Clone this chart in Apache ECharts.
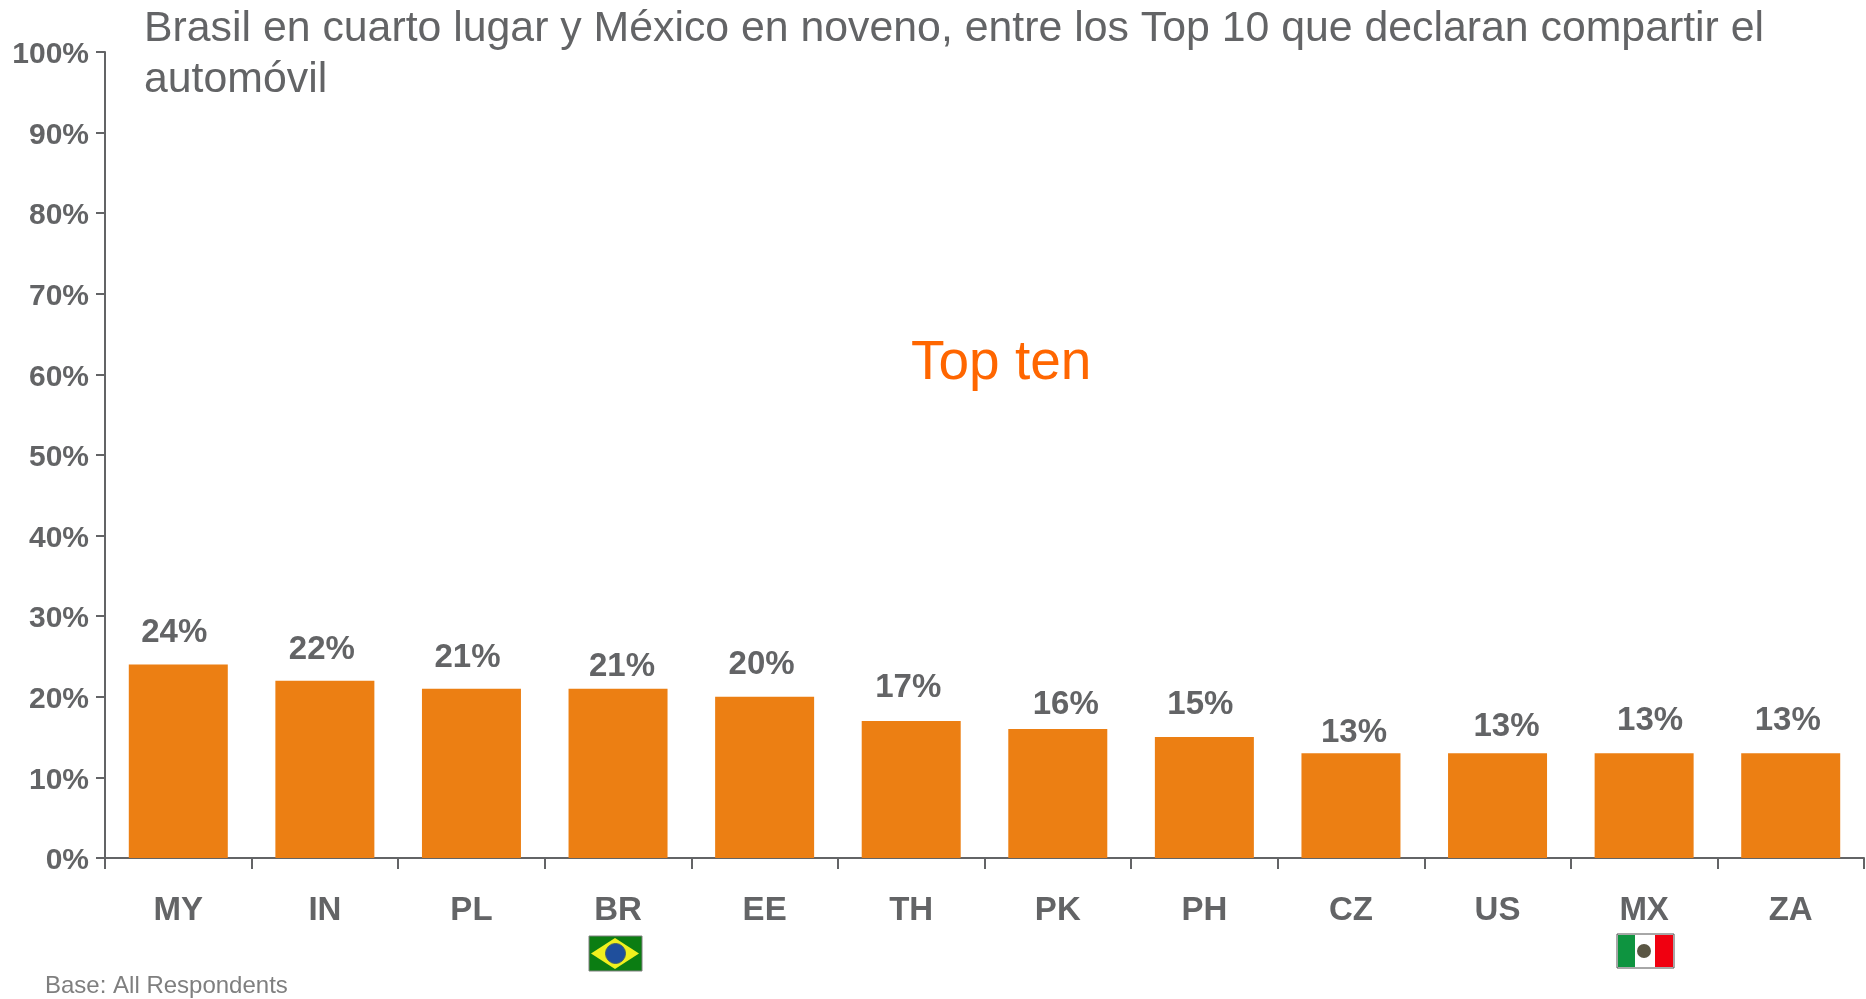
<!DOCTYPE html>
<html>
<head>
<meta charset="utf-8">
<style>
  html, body { margin: 0; padding: 0; background: #fff; }
  #chart { width: 1866px; height: 999px; }
</style>
<script src="https://cdn.jsdelivr.net/npm/echarts@6/dist/echarts.min.js"></script>
</head>
<body>
<div id="chart"></div>
<script>
const categories = ['MY', 'IN', 'PL', 'BR', 'EE', 'TH', 'PK', 'PH', 'CZ', 'US', 'MX', 'ZA']
const shareValues = [24, 22, 21, 21, 20, 17, 16, 15, 13, 13, 13, 13]
const titleText = 'Brasil en cuarto lugar y México en noveno, entre los Top 10 que declaran compartir el\nautomóvil'

const GREY = '#636466'
const FONT = '"Liberation Sans", Arial, sans-serif'

// hand placed data labels in the original, they don't sit evenly over the bars
const labelNudge = [[-4, -15], [-3, -14], [-4, -14], [4, -5], [-3, -15], [-3, -17], [8, -8], [-4, -16], [3, -4], [9, -10], [6, -16], [-3, -16]]

const chart = echarts.init(document.getElementById('chart'), null, { renderer: 'canvas' })

const brazilFlag = {
  type: 'group',
  x: 589,
  y: 936,
  children: [
    { type: 'rect', shape: { x: 0, y: 0, width: 53, height: 35 }, style: { fill: '#0b7d12', stroke: '#808080', lineWidth: 1 } },
    { type: 'polygon', shape: { points: [[2, 17.5], [26, 2], [50, 17.5], [26, 33]] }, style: { fill: '#f0f01e' } },
    { type: 'circle', shape: { cx: 26.5, cy: 17.5, r: 10 }, style: { fill: '#1f4f9c', stroke: '#40606a', lineWidth: 1 } }
  ]
}

const mexicoFlag = {
  type: 'group',
  x: 1617,
  y: 934,
  children: [
    { type: 'rect', shape: { x: 0, y: 0, width: 57, height: 34 }, style: { fill: '#fff', stroke: '#505050', lineWidth: 1 } },
    { type: 'rect', shape: { x: 1, y: 1, width: 17, height: 32 }, style: { fill: '#0e9440' } },
    { type: 'rect', shape: { x: 38, y: 1, width: 18, height: 32 }, style: { fill: '#f00010' } },
    { type: 'circle', shape: { cx: 27, cy: 17, r: 7 }, style: { fill: '#5a5644' } }
  ]
}

chart.setOption({
  animation: false,
  backgroundColor: '#fff',
  textStyle: { fontFamily: FONT },
  title: {
    text: titleText,
    left: 139,
    top: -1,
    textStyle: { color: GREY, fontSize: 42.8, fontWeight: 'normal', fontFamily: FONT, lineHeight: 51 }
  },
  grid: { left: 105, right: 2, top: 52, bottom: 141, containLabel: false },
  xAxis: {
    type: 'category',
    data: categories,
    axisLine: { lineStyle: { color: GREY, width: 2 } },
    axisTick: { show: true, length: 11, alignWithLabel: false, lineStyle: { color: GREY, width: 2 } },
    axisLabel: { color: GREY, fontSize: 33, fontWeight: 'bold', fontFamily: FONT, margin: 36, interval: 0 }
  },
  yAxis: {
    type: 'value',
    min: 0,
    max: 100,
    interval: 10,
    axisLine: { show: true, lineStyle: { color: GREY, width: 2 } },
    axisTick: { show: true, length: 9, lineStyle: { color: GREY, width: 2 } },
    // labels sit a little below their ticks in the original
    axisLabel: { color: GREY, fontSize: 30, fontWeight: 'bold', fontFamily: FONT, margin: 16, verticalAlign: 'top', lineHeight: 6, formatter: '{value}%' },
    splitLine: { show: false }
  },
  series: [
    {
      type: 'bar',
      barWidth: 99,
      itemStyle: { color: '#ec7f13' },
      data: shareValues.map((v, i) => ({
        value: v,
        label: { offset: labelNudge[i] }
      })),
      label: {
        show: true,
        position: 'top',
        distance: 0,
        color: GREY,
        fontSize: 33,
        fontWeight: 'bold',
        fontFamily: FONT,
        formatter: '{c}%'
      }
    }
  ],
  graphic: [
    {
      type: 'text',
      left: 911,
      top: 336,
      style: { text: 'Top ten', fill: '#ff6600', fontSize: 55, fontFamily: FONT }
    },
    {
      type: 'text',
      left: 45,
      top: 974,
      style: { text: 'Base: All Respondents', fill: '#7f7f7f', fontSize: 24, fontFamily: FONT }
    },
    brazilFlag,
    mexicoFlag
  ]
})

window.addEventListener('resize', () => chart.resize())
</script>
</body>
</html>
